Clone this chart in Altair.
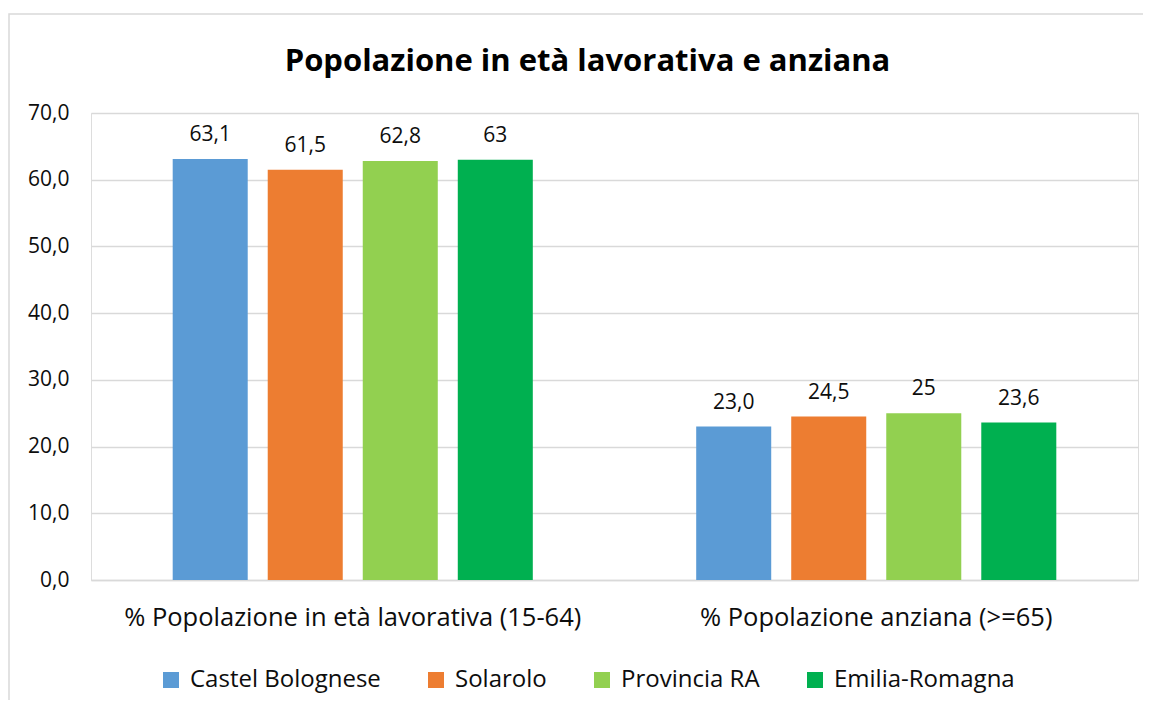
import altair as alt
import pandas as pd

groups = ["% Popolazione in età lavorativa (15-64)", "% Popolazione anziana (>=65)"]
series = ["Castel Bolognese", "Solarolo", "Provincia RA", "Emilia-Romagna"]
colors = ["#5B9BD5", "#ED7D31", "#92D050", "#00B050"]
values_working = [63.1, 61.5, 62.8, 63.0]
values_elderly = [23.0, 24.5, 25.0, 23.6]
labels_working = ["63,1", "61,5", "62,8", "63"]
labels_elderly = ["23,0", "24,5", "25", "23,6"]
y_ticks = [0, 10, 20, 30, 40, 50, 60, 70]
title_text = "Popolazione in età lavorativa e anziana"

rows = []
for g, vals, labs in [(groups[0], values_working, labels_working), (groups[1], values_elderly, labels_elderly)]:
    for s, v, l in zip(series, vals, labs):
        rows.append({"gruppo": g, "serie": s, "valore": v, "etichetta": l})
df = pd.DataFrame(rows)

FONT = "Open Sans"
TXT = "#0d0d0d"
W, H = 1047, 467

x_enc = alt.X("gruppo:N", sort=groups, title=None,
              scale=alt.Scale(paddingInner=0.274, paddingOuter=0.137),
              axis=alt.Axis(labelAngle=0, labelFontSize=25.5, labelPadding=25, ticks=False,
                            domainColor="#d9d9d9", domainWidth=1.5, labelColor=TXT,
                            labelFont=FONT, labelLimit=0))
xo_enc = alt.XOffset("serie:N", sort=series,
                     scale=alt.Scale(paddingInner=0.2105, paddingOuter=0.105))
y_enc = alt.Y("valore:Q", title=None,
              scale=alt.Scale(domain=[0, 70], nice=False),
              axis=alt.Axis(values=y_ticks, domain=False, ticks=False, gridColor="#d9d9d9",
                            gridWidth=1.5, labelFontSize=21, labelPadding=22,
                            labelColor=TXT, labelFont=FONT,
                            labelExpr="replace(format(datum.value, '.1f'), '.', ',')"))

base = alt.Chart(df)

bars = base.mark_bar().encode(
    x=x_enc, xOffset=xo_enc, y=y_enc,
    color=alt.Color("serie:N", sort=series, title=None,
                    scale=alt.Scale(domain=series, range=colors),
                    legend=alt.Legend(orient="none", direction="horizontal", columns=4,
                                      legendX=68, legendY=555, symbolType="square",
                                      symbolSize=256, symbolStrokeWidth=0,
                                      labelFontSize=24, labelFont=FONT, labelColor=TXT,
                                      labelOffset=7, columnPadding=43, labelLimit=0)),
)

texts = base.mark_text(baseline="bottom", dy=-14, fontSize=21, font=FONT, color=TXT).encode(
    x=alt.X("gruppo:N", sort=groups), xOffset=alt.XOffset("serie:N", sort=series),
    y="valore:Q", text="etichetta:N",
)

frame = alt.Chart(pd.DataFrame({"a": [0]})).mark_rect(
    filled=False, stroke="#d9d9d9", strokeWidth=1.5
).encode(x=alt.value(-82), x2=alt.value(W + 60), y=alt.value(-99), y2=alt.value(H + 300))

title = alt.Chart(pd.DataFrame({"t": [title_text]})).mark_text(
    fontSize=31, fontWeight="bold", font=FONT, color="#000000", baseline="alphabetic", align="center"
).encode(x=alt.value(W / 2 - 27), y=alt.value(-42), text="t:N")

chart = alt.layer(frame, bars, texts, title).properties(
    width=W, height=H,
    autosize=alt.AutoSizeParams(type="none"),
    padding={"left": 83, "top": 105, "right": 5, "bottom": 120},
).configure_view(stroke=None).configure(background="white")

chart.save("out.html", embed_options={"renderer": "svg", "actions": False})
